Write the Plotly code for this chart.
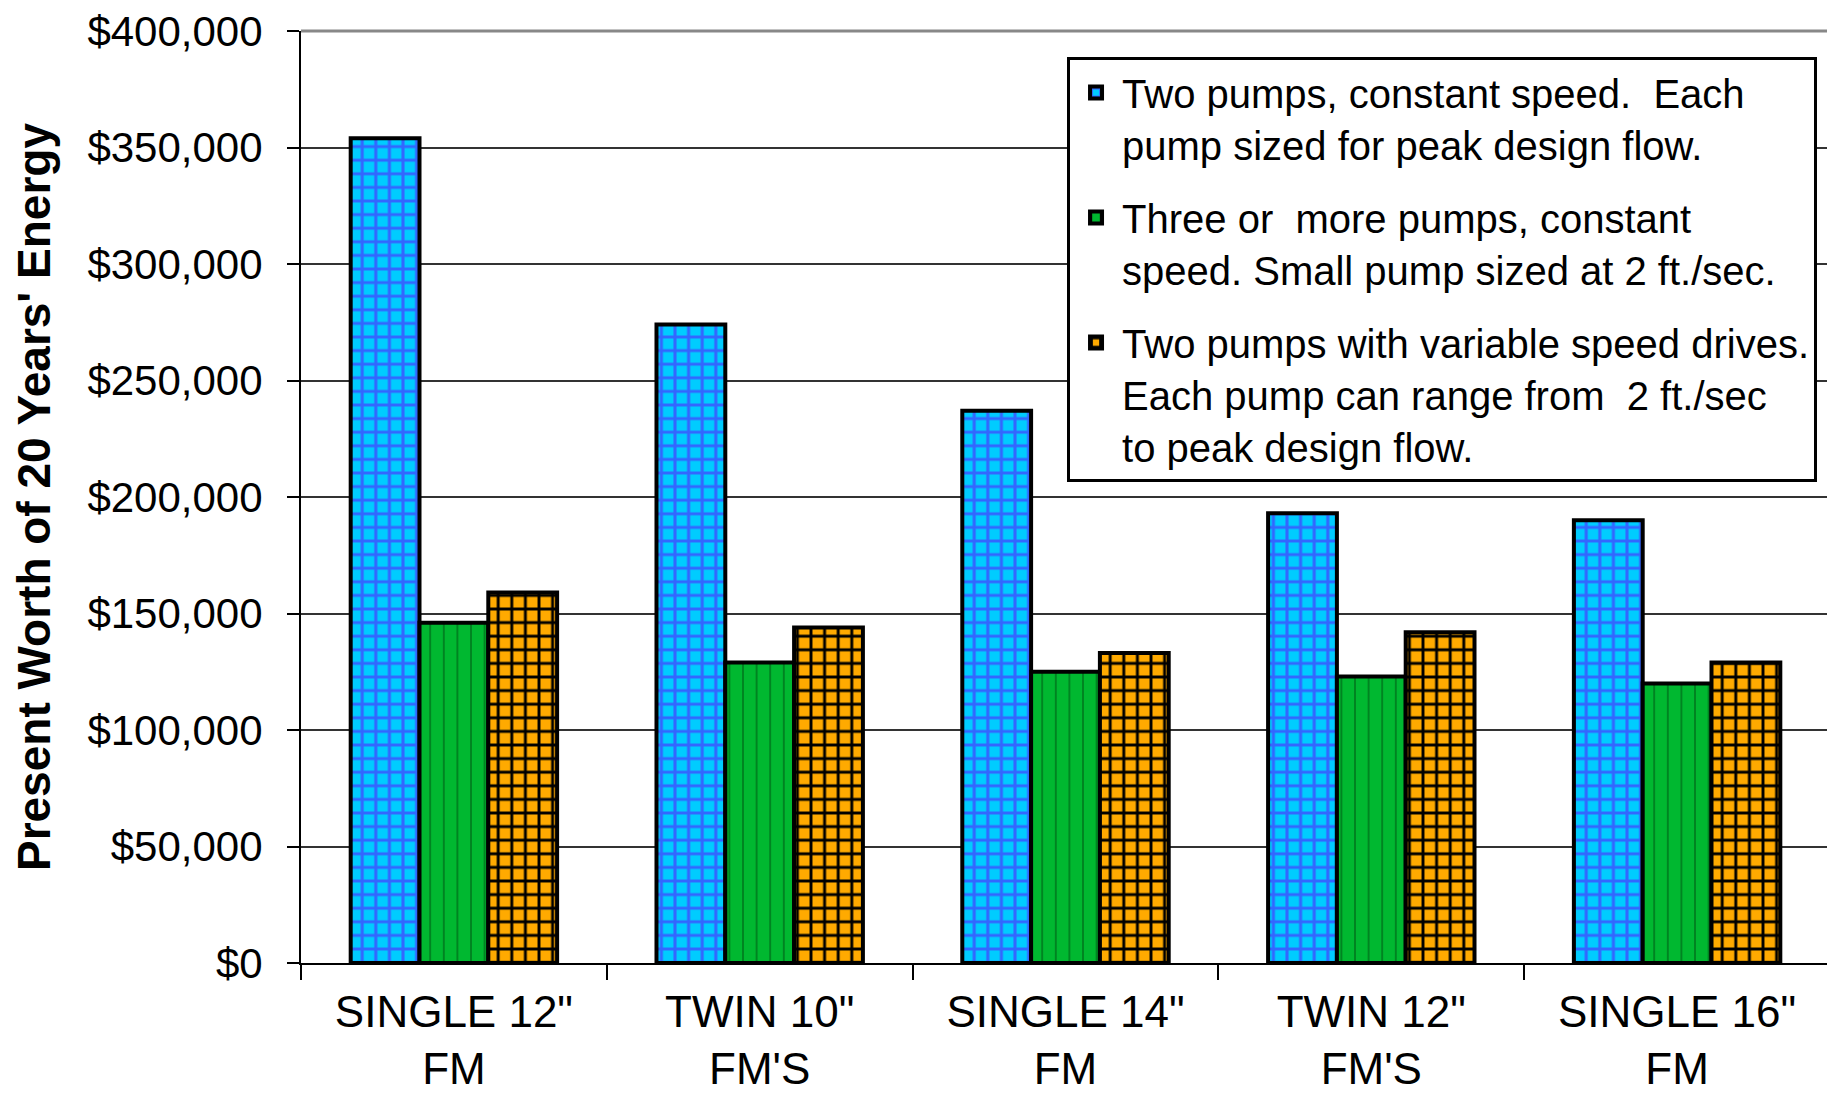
import plotly.graph_objects as go

categories = ['SINGLE 12"<br>FM', 'TWIN 10"<br>FM\'S', 'SINGLE 14"<br>FM', 'TWIN 12"<br>FM\'S', 'SINGLE 16"<br>FM']
series_names = [
    "Two pumps, constant speed.\u00a0 Each<br>pump sized for peak design flow.",
    "Three or\u00a0 more pumps, constant<br>speed. Small pump sized at 2 ft./sec.",
    "Two pumps with variable speed drives.<br>Each pump can range from\u00a0 2 ft./sec<br>to peak design flow.",
]
two_pumps_constant = [354000, 274000, 237000, 193000, 190000]
three_pumps_constant = [146000, 129000, 125000, 123000, 120000]
two_pumps_vsd = [159000, 144000, 133000, 142000, 129000]
y_ticks = [0, 50000, 100000, 150000, 200000, 250000, 300000, 350000, 400000]
y_tick_labels = ["$" + f"{v:,}" for v in y_ticks]

FONT = "Liberation Sans, Arial, sans-serif"

styles = [
    dict(bg="#00CCFF", fg="#3366FF", shape="+", solidity=0.4),
    dict(bg="#00B830", fg="#007A1E", shape="|", solidity=0.12),
    dict(bg="#FFAA00", fg="#000000", shape="+", solidity=0.38),
]

fig = go.Figure()
for i, (name, vals) in enumerate(zip(series_names, [two_pumps_constant, three_pumps_constant, two_pumps_vsd])):
    s = styles[i]
    fig.add_trace(go.Bar(
        x=categories, y=vals, name=name, legendgroup=f"g{i}",
        marker=dict(
            color=s["bg"],
            line=dict(color="black", width=4),
            pattern=dict(shape=s["shape"], fgcolor=s["fg"], bgcolor=s["bg"],
                         size=13.6, solidity=s["solidity"], fillmode="replace"),
        ),
    ))

# page body has an 8px margin; compensate so the plot lands where the reference has it
W, H = 1827, 1087
fig.update_layout(
    width=W, height=H,
    margin=dict(l=293, r=5, t=23, b=132, autoexpand=False),
    paper_bgcolor="white", plot_bgcolor="white",
    barmode="group", bargap=0.325, bargroupgap=0,
    font=dict(family=FONT, color="black"),
    showlegend=True,
    legend=dict(
        x=0.501, y=0.972, xanchor="left", yanchor="top", valign="top",
        bgcolor="white", bordercolor="black", borderwidth=3,
        font=dict(size=40, family=FONT, color="black"),
        tracegroupgap=18, itemwidth=42,
    ),
    xaxis=dict(
        type="category", tickson="boundaries", ticks="outside", ticklen=15,
        tickwidth=2, tickcolor="black", automargin=False, ticklabelstandoff=9,
        showline=True, linecolor="black", linewidth=2,
        tickfont=dict(size=44, family=FONT, color="black"),
        showgrid=False,
    ),
    yaxis=dict(
        range=[0, 400000], tickvals=y_ticks, ticktext=y_tick_labels,
        ticks="outside", ticklen=12, tickwidth=2, tickcolor="black", automargin=False,
        ticklabelstandoff=16, ticklabeloverflow="allow",
        showline=True, linecolor="black", linewidth=2,
        showgrid=True, gridcolor="#333333", gridwidth=1.5,
        tickfont=dict(size=42, family=FONT, color="black"),
        title=dict(text="<b>Present Worth of 20 Years' Energy</b>",
                   font=dict(size=46, family=FONT, color="black"), standoff=22),
        zeroline=False,
    ),
)

fig.add_shape(type="line", xref="paper", yref="paper", x0=1, x1=1, y0=0, y1=1,
              line=dict(color="#888888", width=3))
fig.add_shape(type="line", xref="paper", yref="paper", x0=0, x1=1, y0=1, y1=1,
              line=dict(color="#888888", width=3))

fig.write_html("out.html")
